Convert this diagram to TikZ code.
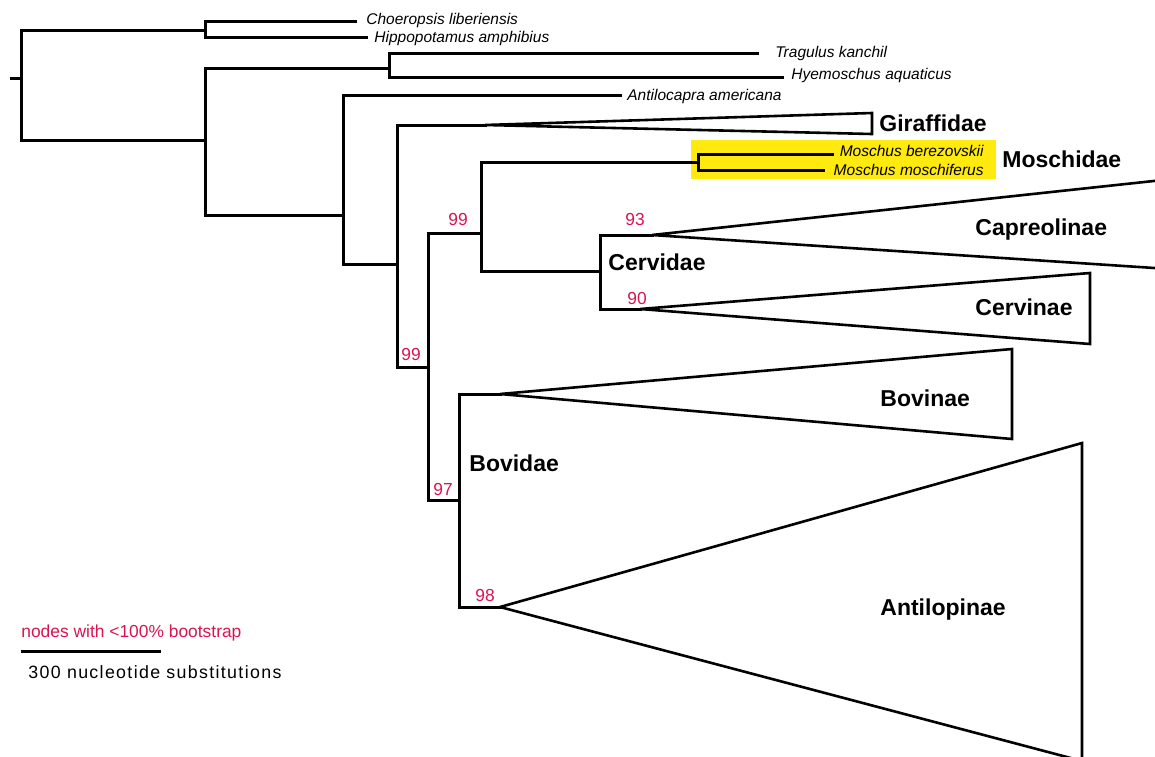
\documentclass[tikz,border=0pt]{standalone}
\usepackage{fontspec}
\setmainfont{Liberation Sans}
\definecolor{bsred}{RGB}{218,20,80}
\definecolor{hl}{RGB}{255,234,16}
\begin{document}
\begin{tikzpicture}[x=0.5pt,y=-0.5pt,
  br/.style={line width=1.5pt, line join=miter, line cap=rect},
  tri/.style={line width=1.3pt, line join=miter},
  tax/.style={font=\fontsize{7.75}{9}\selectfont\itshape, inner sep=0pt, text height=5.5pt, text depth=0pt},
  clade/.style={font=\fontsize{11.5}{13}\selectfont\bfseries, anchor=west, inner sep=0pt, text height=8.2pt, text depth=0pt},
  bs/.style={font=\fontsize{8.7}{10}\selectfont, text=bsred, inner sep=0pt, text height=6.2pt, text depth=0pt}]
\useasboundingbox (0,0) rectangle (1155,756);
\clip (0,0) rectangle (1155,756);
% highlight
\fill[hl] (691,140) rectangle (996,179);
% coordinates
\coordinate (root) at (11,78);
\coordinate (n0) at (21,78);
\coordinate (n1) at (205,30);
\coordinate (tCh) at (355,21);
\coordinate (tHi) at (366,37);
\coordinate (n2) at (205,140);
\coordinate (n3) at (389,68);
\coordinate (tTr) at (757,53);
\coordinate (tHy) at (782,77);
\coordinate (n4) at (343,215);
\coordinate (tAn) at (620,95);
\coordinate (n5) at (397,264);
\coordinate (gA) at (485,125);
\coordinate (gT) at (872,113);
\coordinate (gB) at (872,134);
\coordinate (n6) at (428,367);
\coordinate (n7) at (481,233);
\coordinate (n8) at (698,162);
\coordinate (tMb) at (832,154);
\coordinate (tMm) at (823,170);
\coordinate (n9) at (600,271);
\coordinate (cA) at (652,235);
\coordinate (cT) at (1200,176);
\coordinate (cB) at (1200,271);
\coordinate (vA) at (640,309);
\coordinate (vT) at (1090,273);
\coordinate (vB) at (1090,344);
\coordinate (n10) at (459,500);
\coordinate (bA) at (500,394);
\coordinate (bT) at (1012,349);
\coordinate (bB) at (1012,439);
\coordinate (aA) at (500,607);
\coordinate (aT) at (1082,443);
\coordinate (aB) at (1082,761);
% branches
\draw[br] (root) -- (n0);
\draw[br] (n1) -| (n0) |- (n2);
\draw[br] (tCh) -| (n1) |- (tHi);
\draw[br] (n3) -| (n2) |- (n4);
\draw[br] (tTr) -| (n3) |- (tHy);
\draw[br] (tAn) -| (n4) |- (n5);
\draw[br] (gA) -| (n5) |- (n6);
\draw[br] (n7) -| (n6) |- (n10);
\draw[br] (n8) -| (n7) |- (n9);
\draw[br] (tMb) -| (n8) |- (tMm);
\draw[br] (cA) -| (n9) |- (vA);
\draw[br] (bA) -| (n10) |- (aA);
% collapsed clades
\draw[tri] (gA) -- (gT) -- (gB) -- cycle;
\draw[tri] (cA) -- (cT) -- (cB) -- cycle;
\draw[tri] (vA) -- (vT) -- (vB) -- cycle;
\draw[tri] (bA) -- (bT) -- (bB) -- cycle;
\draw[tri] (aA) -- (aT) -- (aB) -- cycle;
% taxon labels
\node[tax, anchor=west] (lCh) at (366,19) {Choeropsis liberiensis};
\node[tax, anchor=west] (lHi) at (374,37) {Hippopotamus amphibius};
\node[tax, anchor=west] (lTr) at (775,52) {Tragulus kanchil};
\node[tax, anchor=west] (lHy) at (791,74) {Hyemoschus aquaticus};
\node[tax, anchor=west] (lAn) at (627,95) {Antilocapra americana};
\node[tax, anchor=east] (lMb) at (984,151) {Moschus berezovskii};
\node[tax, anchor=east] (lMm) at (984,170) {Moschus moschiferus};
% clade labels
\node[clade] (lGi) at (879,123) {Giraffidae};
\node[clade] (lMo) at (1002,159) {Moschidae};
\node[clade] (lCa) at (975,227) {Capreolinae};
\node[clade] (lCv) at (608,262) {Cervidae};
\node[clade] (lCe) at (975,307) {Cervinae};
\node[clade] (lBo) at (880,398) {Bovinae};
\node[clade] (lBd) at (469,463) {Bovidae};
\node[clade] (lAt) at (880,607) {Antilopinae};
% bootstrap values
\node[bs] (b1) at (458,219) {99};
\node[bs] (b2) at (635,219) {93};
\node[bs] (b3) at (637,298) {90};
\node[bs] (b4) at (411,354) {99};
\node[bs] (b5) at (443,489) {97};
\node[bs] (b6) at (485,595) {98};
% legend
\node[bs, anchor=west] (leg) at (21,631) {nodes with <100\% bootstrap};
\coordinate (s0) at (21,651);
\coordinate (s1) at (161,651);
\draw[line width=1.5pt] (s0) -- (s1);
\node[anchor=west, inner sep=0pt, text height=6.4pt, text depth=0pt, font=\fontsize{8.9}{10}\selectfont\addfontfeature{LetterSpace=7.5}] (sc) at (28,672) {300 nucleotide substitutions};
\end{tikzpicture}
\end{document}
